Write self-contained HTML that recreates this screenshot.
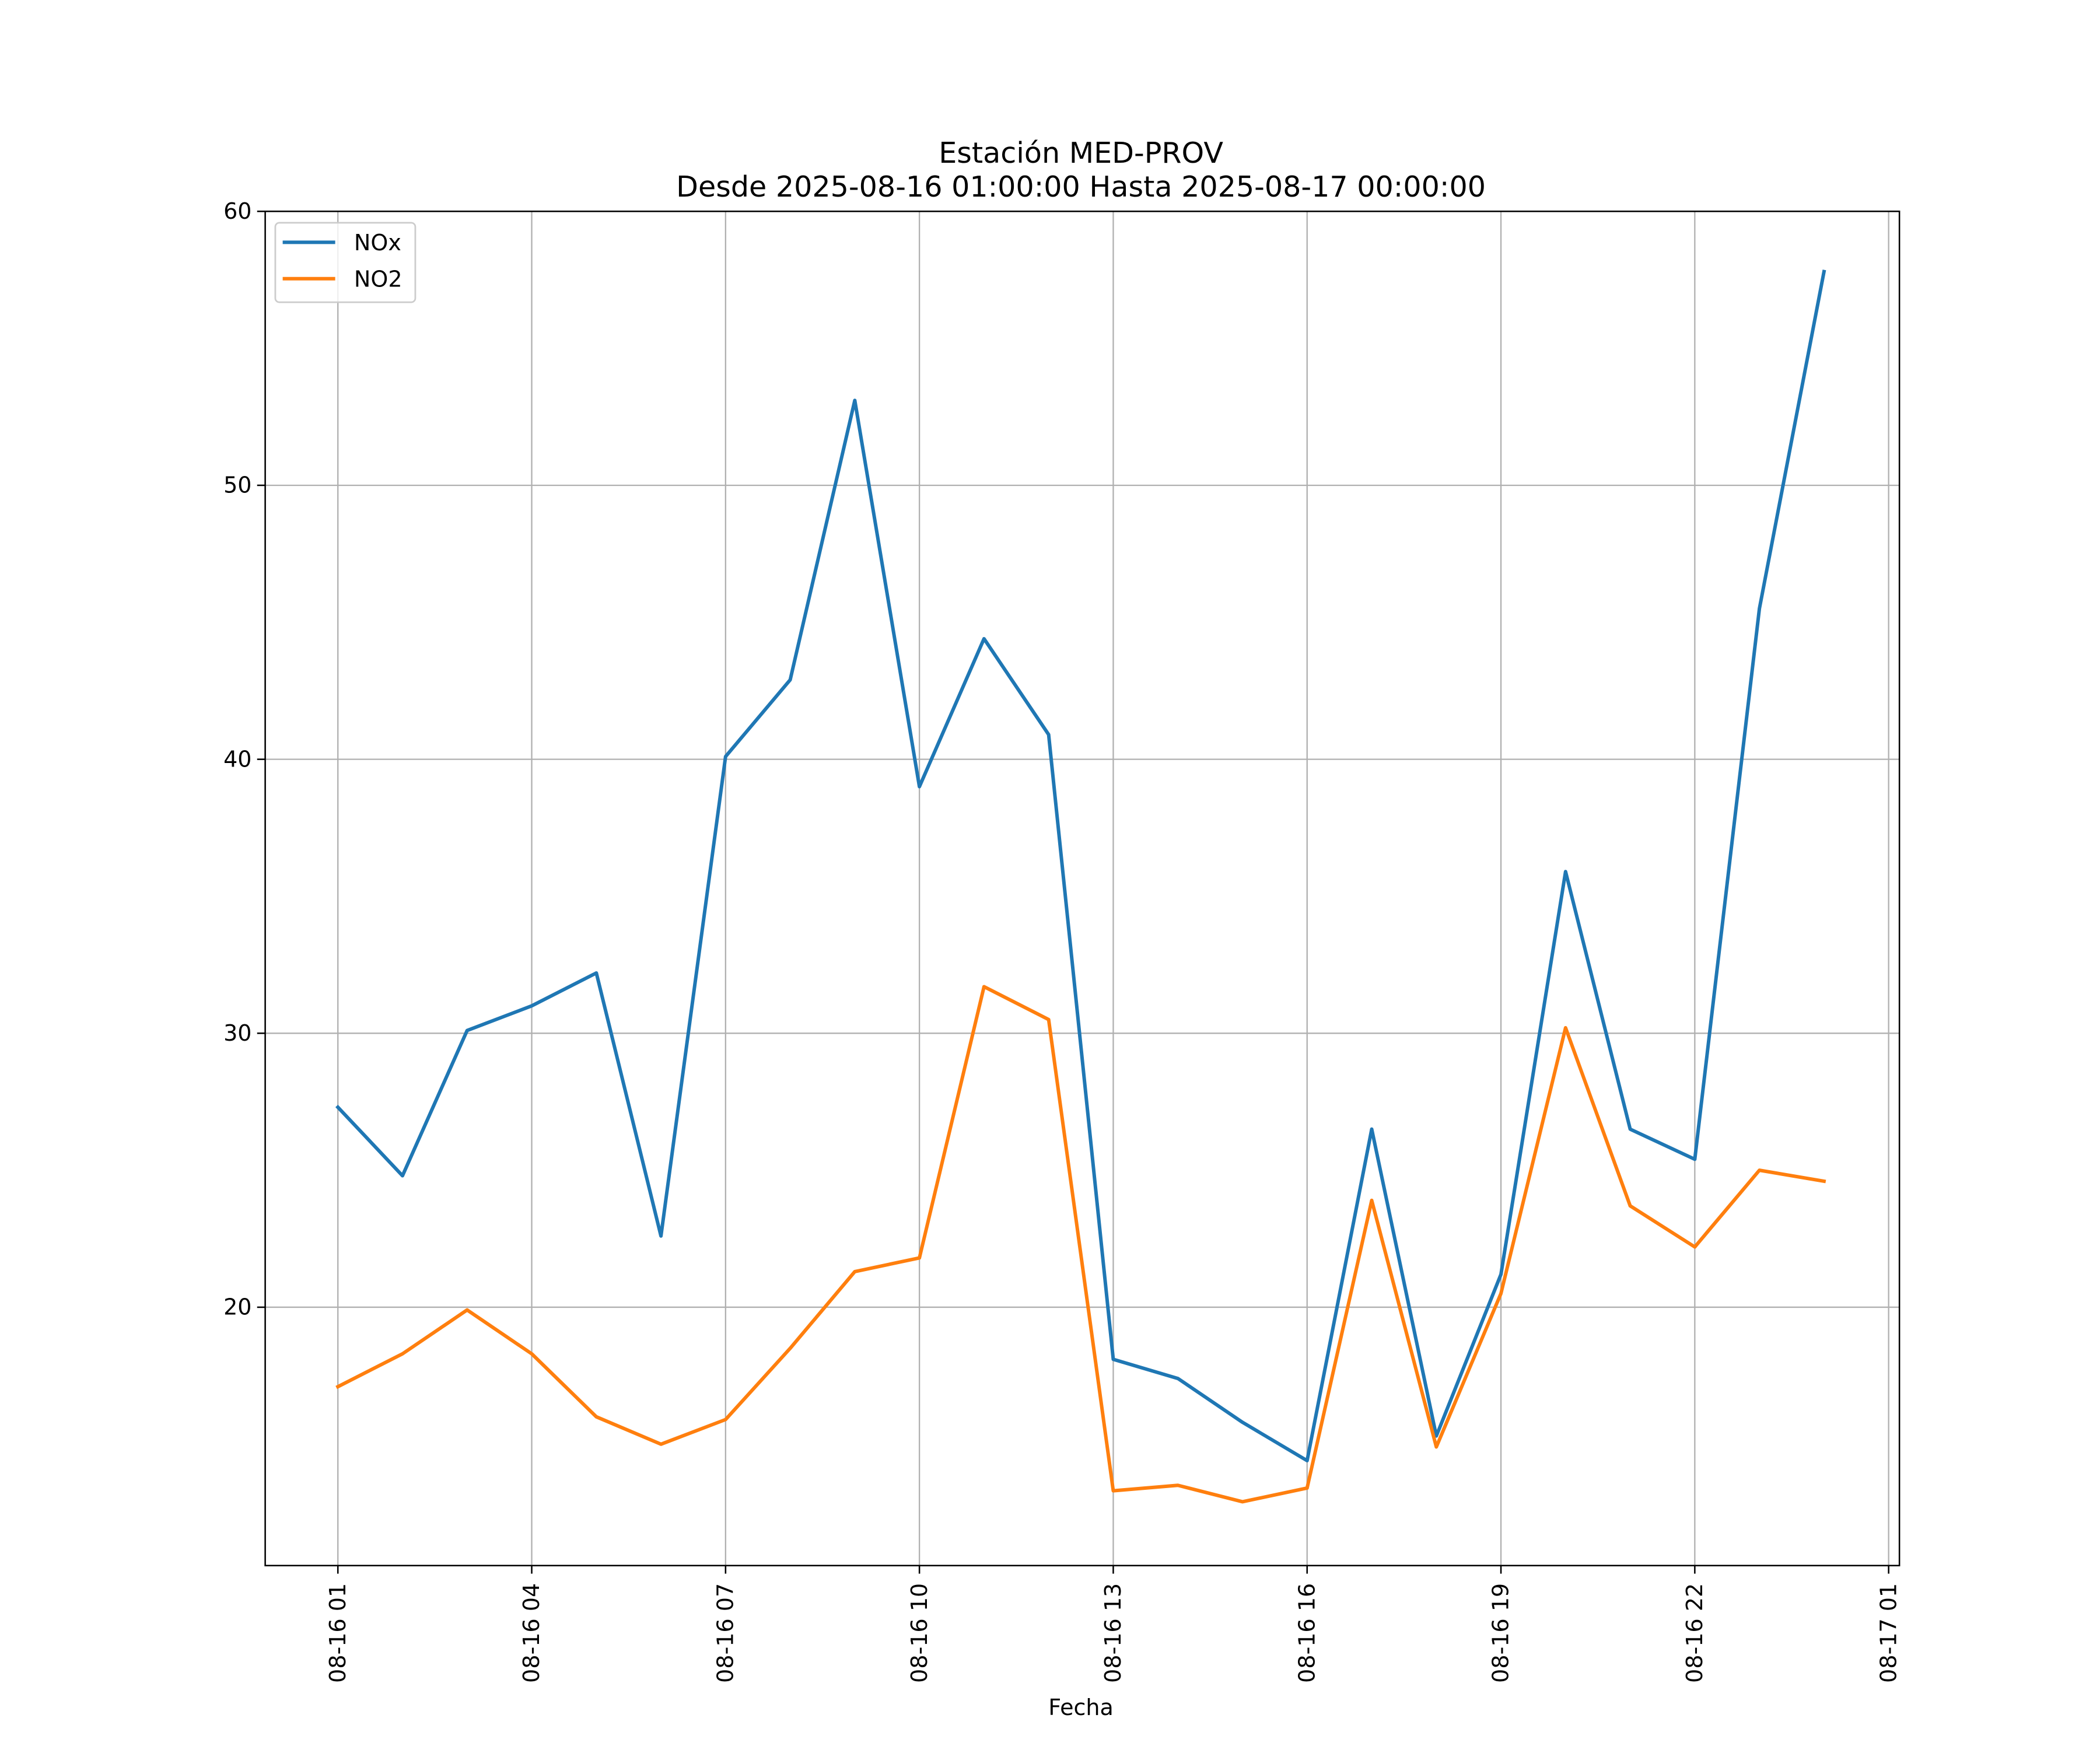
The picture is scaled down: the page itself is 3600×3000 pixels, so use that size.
<!DOCTYPE html>
<html><head><meta charset="utf-8"><style>
html,body{margin:0;padding:0;background:#fff;}
svg{display:block;}
text{font-family:"DejaVu Sans","Liberation Sans",sans-serif;fill:#000;}
</style></head><body>
<svg id="chart" width="3600" height="3000" viewBox="0 0 1560 1300" xmlns="http://www.w3.org/2000/svg">
<rect x="0" y="0" width="1560" height="1300" fill="#fff"/>
<g id="grid"></g>
<g id="series"></g>
<rect x="197" y="157" width="1214" height="1006" fill="none" stroke="#000" stroke-width="1.1"/>
<g id="ticks"></g>
<text x="803" y="121" font-size="21.3" text-anchor="middle">Estación MED-PROV</text>
<text x="803" y="146" font-size="21.3" text-anchor="middle">Desde 2025-08-16 01:00:00 Hasta 2025-08-17 00:00:00</text>
<text x="803" y="1274" font-size="16.5" text-anchor="middle">Fecha</text>
<g>
<rect x="204.5" y="165.5" width="104" height="59" rx="3" fill="#fff" fill-opacity="0.8" stroke="#ccc" stroke-width="1.2"/>
<line x1="210" y1="180" x2="249" y2="180" stroke="#1f77b4" stroke-width="2.6"/>
<text x="263" y="186" font-size="16.5">NOx</text>
<line x1="210" y1="207" x2="249" y2="207" stroke="#ff7f0e" stroke-width="2.6"/>
<text x="263" y="213" font-size="16.5">NO2</text>
</g>
</svg>
<script>
const hours = [1,2,3,4,5,6,7,8,9,10,11,12,13,14,15,16,17,18,19,20,21,22,23,24];
const noxValues = [27.3,24.8,30.1,31.0,32.2,22.6,40.1,42.9,53.1,39.0,44.4,40.9,18.1,17.4,15.8,14.4,26.5,15.3,21.2,35.9,26.5,25.4,45.5,57.8];
const no2Values = [17.1,18.3,19.9,18.3,16.0,15.0,15.9,18.5,21.3,21.8,31.7,30.5,13.3,13.5,12.9,13.4,23.9,14.9,20.5,30.2,23.7,22.2,25.0,24.6];
const xTickHours = [1,4,7,10,13,16,19,22,25];
const xTickLabels = ["08-16 01","08-16 04","08-16 07","08-16 10","08-16 13","08-16 16","08-16 19","08-16 22","08-17 01"];
const yTicks = [20,30,40,50,60];

const L=197,R=1411,T=157,B=1163;
const xMin=-0.125, xMax=25.167, yMin=10.57, yMax=60;
const xs = h => L + (h-xMin)/(xMax-xMin)*(R-L);
const ys = v => B - (v-yMin)/(yMax-yMin)*(B-T);
const NS="http://www.w3.org/2000/svg";
const grid=document.getElementById('grid'), ticks=document.getElementById('ticks'), series=document.getElementById('series');
function mk(tag, attrs, parent){const e=document.createElementNS(NS,tag);for(const k in attrs)e.setAttribute(k,attrs[k]);parent.appendChild(e);return e;}

xTickHours.forEach((h,i)=>{
  const x=xs(h);
  const g=mk('line',{x1:x,y1:T,x2:x,y2:B,stroke:'#b0b0b0','stroke-width':1},grid);
  
  
  const t=mk('line',{x1:x,y1:B,x2:x,y2:B+6,stroke:'#000','stroke-width':1.1},ticks);
  
  
  const tx=mk('text',{x:0,y:0,'font-size':16.5,'text-anchor':'end',transform:`translate(${x+5.5},${B+13}) rotate(-90)`},ticks);
  tx.textContent=xTickLabels[i];
  
  
});
yTicks.forEach(v=>{
  const y=ys(v);
  const g=mk('line',{x1:L,y1:y,x2:R,y2:y,stroke:'#b0b0b0','stroke-width':1},grid);
  
  
  const t=mk('line',{x1:L-6,y1:y,x2:L,y2:y,stroke:'#000','stroke-width':1.1},ticks);
  
  
  const tx=mk('text',{x:L-10,y:y+5.5,'font-size':16.5,'text-anchor':'end'},ticks);
  tx.textContent=String(v);
  
  
});
function drawLine(vals,color,name){
  const pts=vals.map((v,i)=>xs(hours[i]).toFixed(2)+','+ys(v).toFixed(2)).join(' ');
  const p=mk('polyline',{points:pts,fill:'none',stroke:color,'stroke-width':2.6,'stroke-linejoin':'round','stroke-linecap':'square'},series);
  
  
}
drawLine(noxValues,'#1f77b4','nox-line');
drawLine(no2Values,'#ff7f0e','no2-line');
</script>
</body></html>
